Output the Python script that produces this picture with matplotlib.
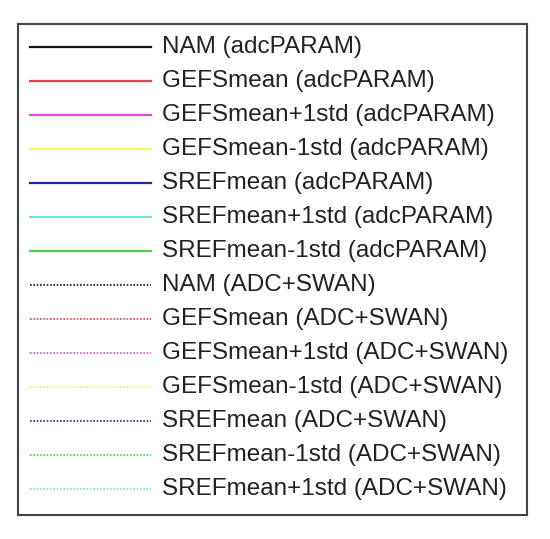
import matplotlib
matplotlib.use("Agg")
import matplotlib.pyplot as plt

labels = [
    "NAM (adcPARAM)",
    "GEFSmean (adcPARAM)",
    "GEFSmean+1std (adcPARAM)",
    "GEFSmean-1std (adcPARAM)",
    "SREFmean (adcPARAM)",
    "SREFmean+1std (adcPARAM)",
    "SREFmean-1std (adcPARAM)",
    "NAM (ADC+SWAN)",
    "GEFSmean (ADC+SWAN)",
    "GEFSmean+1std (ADC+SWAN)",
    "GEFSmean-1std (ADC+SWAN)",
    "SREFmean (ADC+SWAN)",
    "SREFmean-1std (ADC+SWAN)",
    "SREFmean+1std (ADC+SWAN)",
]
colors = [
    "#111111", "#d9474a", "#d94fd9", "#f4f46a", "#262a8c", "#6fe3e3", "#4fd24f",
    "#111111", "#d9474a", "#d94fd9", "#f4f46a", "#262a8c", "#4fd24f", "#6fe3e3",
]
styles = ["-"] * 7 + [(0, (1, 1))] * 7

fig = plt.figure(figsize=(5.5, 5.39), dpi=100)
ax = fig.add_axes([18 / 550, 24 / 539, 509 / 550, 491 / 539])
ax.set_xlim(0, 509)
ax.set_ylim(-0.676 + 491 / 34, -0.676)
ax.set_xticks([])
ax.set_yticks([])
for s in ax.spines.values():
    s.set_color("#444444")
    s.set_linewidth(1.5)

for i, (lab, c, ls) in enumerate(zip(labels, colors, styles)):
    ax.plot([12, 133], [i, i], color=c, linestyle=ls,
            linewidth=1.6 if ls == "-" else 1.2)
    ax.text(144, i, lab, fontsize=17.5, family="Liberation Sans",
            color="#222222", va="center", ha="left")

fig.savefig("out.png", dpi=100)
